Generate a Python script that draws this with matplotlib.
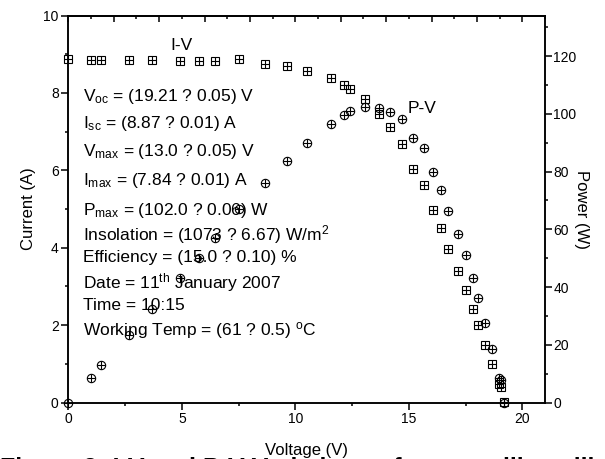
import numpy as np
import matplotlib
matplotlib.use("Agg")
import matplotlib.pyplot as plt
from matplotlib.ticker import MultipleLocator

plt.rcParams['font.family'] = ['Liberation Sans', 'DejaVu Sans']
plt.rcParams['mathtext.fontset'] = 'custom'
plt.rcParams['mathtext.rm'] = 'Liberation Sans'
plt.rcParams['mathtext.it'] = 'Liberation Sans'
plt.rcParams['mathtext.bf'] = 'Liberation Sans:bold'

voltage = [0.0, 1.0, 1.45, 2.68, 3.7, 4.92, 5.74, 6.47, 7.53, 8.68, 9.62, 10.5,
           11.55, 12.15, 12.42, 13.05, 13.7, 14.15, 14.7, 15.18, 15.67, 16.07,
           16.4, 16.72, 17.15, 17.5, 17.82, 18.05, 18.37, 18.65, 18.97, 19.05, 19.21]
current = [8.87, 8.85, 8.85, 8.84, 8.84, 8.82, 8.82, 8.82, 8.89, 8.75, 8.69, 8.58,
           8.38, 8.20, 8.11, 7.84, 7.45, 7.11, 6.68, 6.03, 5.63, 4.98,
           4.50, 3.97, 3.41, 2.92, 2.42, 2.01, 1.50, 1.00, 0.49, 0.40, 0.02]
power = [0.0, 8.6, 12.9, 23.3, 32.5, 43.3, 50.2, 57.1, 66.9, 76.0, 83.7, 90.0,
         96.6, 99.5, 100.8, 102.2, 101.9, 100.7, 98.2, 91.6, 88.3, 80.0,
         73.6, 66.4, 58.5, 51.1, 43.3, 36.3, 27.6, 18.6, 8.6, 7.8, 0.0]

info_lines = [
    r"V$_{\mathregular{oc}}$ = (19.21 ? 0.05) V",
    r"I$_{\mathregular{sc}}$ = (8.87 ? 0.01) A",
    r"V$_{\mathregular{max}}$ = (13.0 ? 0.05) V",
    r"I$_{\mathregular{max}}$ = (7.84 ? 0.01) A",
    r"P$_{\mathregular{max}}$ = (102.0 ? 0.06) W",
    r"Insolation = (1073 ? 6.67) W/m$^{\mathregular{2}}$",
    r"Efficiency = (15.0 ? 0.10) %",
    r"Date = 11$^{\mathregular{th}}$ January 2007",
    r"Time = 10:15",
    r"Working Temp = (61 ? 0.5) $^{\mathregular{o}}$C",
]
info_y = [7.79, 7.09, 6.36, 5.63, 4.85, 4.19, 3.62, 2.94, 2.38, 1.75]

caption = "Figure 3: I-V and P-V Variations of a crystalline silicon module"

fig = plt.figure(figsize=(6.05, 4.59), dpi=100)
fig.subplots_adjust(left=0.113, right=0.901, bottom=0.123, top=0.966)
ax = fig.add_subplot(111)
ax2 = ax.twinx()

ms = 5.5
mew = 0.8
# I-V : square with cross
ax.plot(voltage, current, ls='none', marker='s', ms=ms, mfc='none', mec='black', mew=mew, clip_on=False)
ax.plot(voltage, current, ls='none', marker='+', ms=ms, mec='black', mew=mew, clip_on=False)
# P-V : circle with cross
ax2.plot(voltage, power, ls='none', marker='o', ms=ms + 0.5, mfc='none', mec='black', mew=mew, clip_on=False)
ax2.plot(voltage, power, ls='none', marker='+', ms=ms + 0.5, mec='black', mew=mew, clip_on=False)

ax.set_xlim(0, 21)
ax.set_ylim(0, 10)
ax2.set_ylim(0, 134)

ax.xaxis.set_major_locator(MultipleLocator(5))
ax.xaxis.set_minor_locator(MultipleLocator(2.5))
ax.yaxis.set_major_locator(MultipleLocator(2))
ax.yaxis.set_minor_locator(MultipleLocator(1))
ax2.yaxis.set_major_locator(MultipleLocator(20))
ax2.yaxis.set_minor_locator(MultipleLocator(10))

ax.tick_params(which='both', direction='out', labelsize=10, width=1.1, pad=2)
ax.tick_params(which='major', length=5)
ax.tick_params(which='minor', length=2.5)
ax2.tick_params(which='both', direction='out', labelsize=10, width=1.1, pad=1)
ax2.tick_params(which='major', length=5)
ax2.tick_params(which='minor', length=2.5)

top = ax.secondary_xaxis('top')
top.xaxis.set_major_locator(MultipleLocator(2))
top.xaxis.set_minor_locator(MultipleLocator(1))
top.tick_params(which='both', direction='in', labeltop=False, width=1.1)
top.tick_params(which='major', length=4)
top.tick_params(which='minor', length=2)

for a in (ax, ax2, top):
    for s in a.spines.values():
        s.set_linewidth(1.1)

ax.set_xlabel("Voltage (V)", fontsize=12, labelpad=12)
ax.set_ylabel("Current (A)", fontsize=12, labelpad=5)
ax2.set_ylabel("Power (W)", fontsize=12, rotation=-90, labelpad=9)

for txt, y in zip(info_lines, info_y):
    ax.text(0.65, y, txt, fontsize=12.5, va='baseline', ha='left')

ax.text(4.5, 9.24, "I-V", fontsize=12.5, va='center', ha='left')
ax2.text(14.95, 102, "P-V", fontsize=12.5, va='center', ha='left')

# caption sits mostly below the bottom edge, only its top shows
fig.text(0.0, -0.038, caption, fontsize=18, fontweight='bold', va='baseline', ha='left')

fig.savefig("out.png", dpi=100)
